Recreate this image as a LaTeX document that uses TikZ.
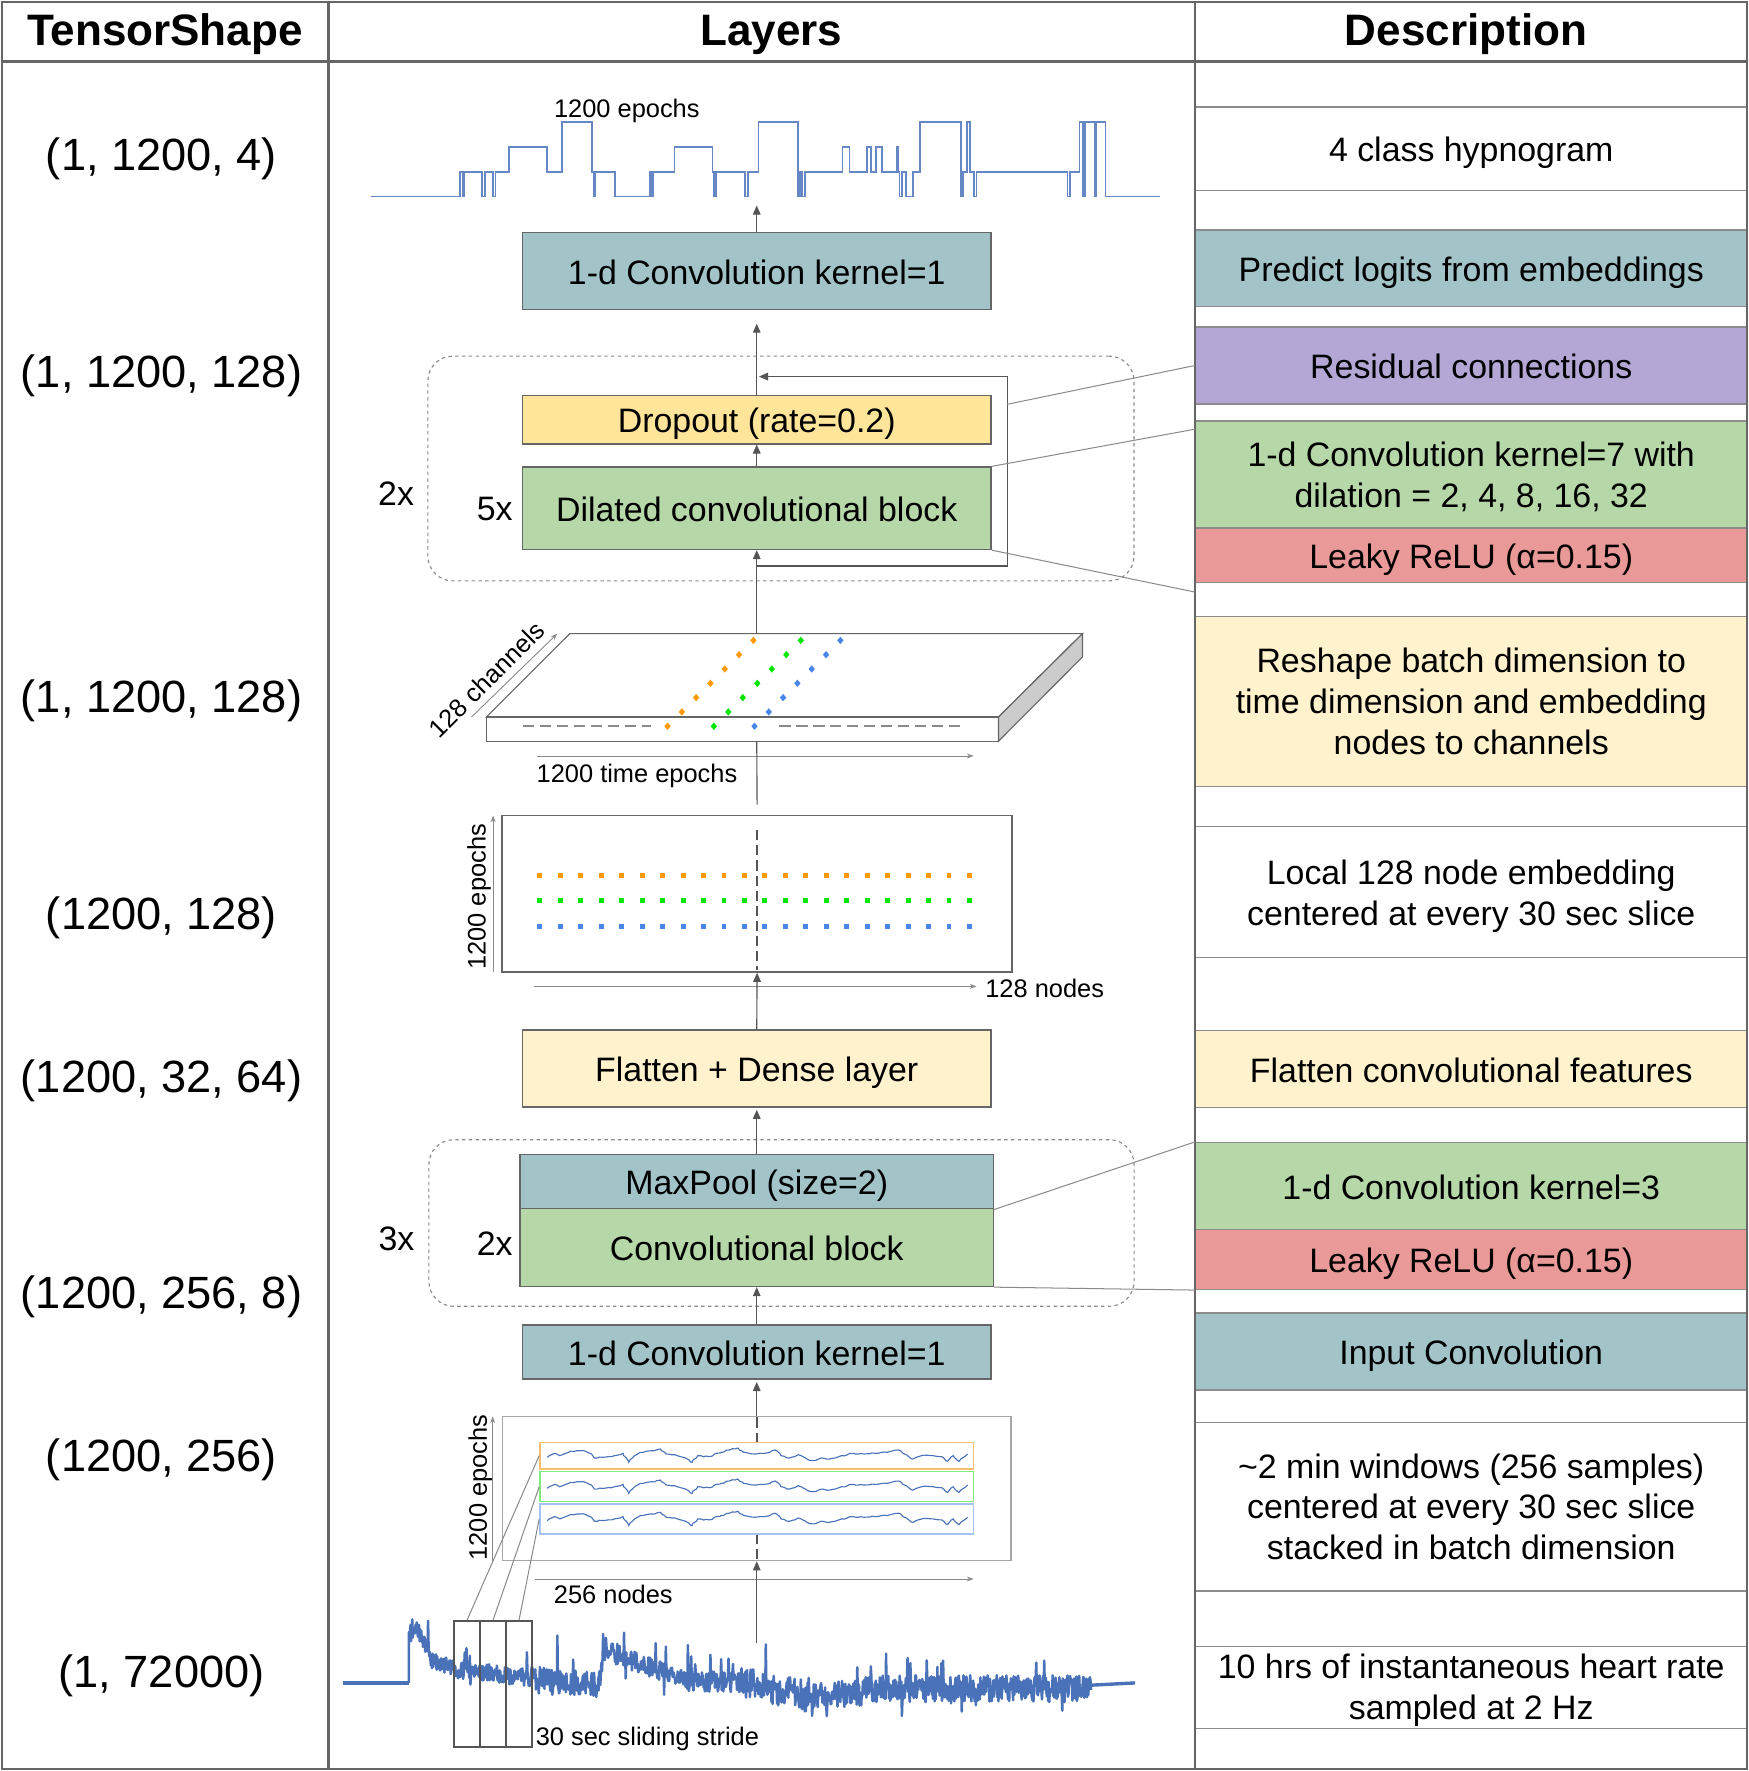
\documentclass[tikz,border=0pt]{standalone}
\usepackage{fontspec}
\setmainfont{Liberation Sans}
\usetikzlibrary{arrows.meta,calc,decorations.pathmorphing}
\definecolor{cTeal}{HTML}{A2C4C9}
\definecolor{cYel}{HTML}{FFE599}
\definecolor{cGrn}{HTML}{B6D7A8}
\definecolor{cLYel}{HTML}{FFF2CC}
\definecolor{cPurp}{HTML}{B4A7D6}
\definecolor{cRed}{HTML}{EA9999}
\definecolor{cFrame}{HTML}{666666}
\definecolor{cRow}{HTML}{8C8C8C}
\definecolor{cArr}{HTML}{555555}
\definecolor{cThin}{HTML}{8A8A8A}
\definecolor{cSig}{HTML}{4A72B8}
\definecolor{cOr}{HTML}{FF9900}
\definecolor{cGr}{HTML}{00E600}
\definecolor{cBl}{HTML}{4A86E8}
\definecolor{cOrL}{HTML}{F8BE6E}
\definecolor{cGrL}{HTML}{7EEB7E}
\definecolor{cBlL}{HTML}{A4C2F4}
\begin{document}
\begin{tikzpicture}[x=0.5pt,y=-0.5pt,
  lbox/.style={draw=cFrame, line width=0.6pt, inner sep=0pt, minimum width=207.5pt, font=\fontsize{15}{18}\selectfont, text height=12pt, text depth=0.3pt},
  dbox/.style={draw=cRow, line width=0.6pt, inner sep=0pt, anchor=north west, minimum width=244pt, align=center, font=\fontsize{15}{18}\selectfont},
  dboxs/.style={dbox, text height=12pt, text depth=0.3pt},
  tshape/.style={font=\fontsize{20}{24}\selectfont, inner sep=0pt},
  hdr/.style={font=\fontsize{19.5}{23}\selectfont\bfseries, inner sep=0pt},
  lbl/.style={font=\fontsize{11.25}{13}\selectfont, inner sep=0pt, text height=8.5pt, text depth=0.5pt},
  mult/.style={font=\fontsize{15}{18}\selectfont, inner sep=0pt},
  arr/.style={draw=cArr, line width=0.5pt, -{Triangle[length=4pt,width=3.4pt]}},
  thinarr/.style={draw=cThin, line width=0.4pt, -{Stealth[length=3pt,width=2.2pt]}},
  conn/.style={draw=cArr, line width=0.5pt},
  callout/.style={draw=cThin, line width=0.45pt},
  dashbox/.style={draw=cThin, dash pattern=on 1.5pt off 1.5pt, line width=0.5pt, rounded corners=11pt, inner sep=0pt},
  dashln/.style={draw=cArr, dash pattern=on 4.5pt off 2.2pt, line width=0.7pt},
  framel/.style={draw=cFrame, line width=1pt},
  sigline/.style={draw=cSig, line width=1.1pt, line join=round},
  hypline/.style={draw=cSig!85, line width=0.8pt},
  hrflat/.style={draw=cSig, line width=1.5pt},
  winbox/.style={line width=0.6pt, inner sep=0pt, minimum width=192pt},
  stride/.style={draw=cArr, line width=1pt, inner sep=0pt, minimum width=11.5pt, minimum height=55.5pt},
  trace/.style={draw=cSig, line width=0.5pt, decorate, decoration={random steps, segment length=1.2pt, amplitude=0.35pt}}
]
\useasboundingbox (0,0) rectangle (1548,1568);

% ---------------- description rows ----------------
\node[dboxs, minimum height=37pt] (dhyp) at (1058,94) {4 class hypnogram};
\node[dboxs, fill=cTeal, minimum height=34pt] (dlogit) at (1058,203) {Predict logits from embeddings};
\node[dboxs, fill=cPurp, minimum height=34pt] (dresid) at (1058,289) {Residual connections};
\node[dbox, fill=cGrn, minimum height=47.5pt] (dconv7) at (1058,372) {\rule{0pt}{13pt}1-d Convolution kernel=7 with\\dilation = 2, 4, 8, 16, 32};
\node[dboxs, fill=cRed, minimum height=24pt] (dleak1) at (1058,467) {Leaky ReLU (α=0.15)};
\node[dbox, fill=cLYel, minimum height=75.5pt] (dresh) at (1058,545) {Reshape batch dimension to\\time dimension and embedding\\nodes to channels};
\node[dbox, minimum height=58pt] (dlocal) at (1058,731) {\rule{0pt}{15pt}Local 128 node embedding\\centered at every 30 sec slice};
\node[dboxs, fill=cLYel, minimum height=34pt] (dflat) at (1058,912) {Flatten convolutional features};
\node[dboxs, fill=cGrn, minimum height=38.5pt] (dconv3) at (1058,1011) {1-d Convolution kernel=3};
\node[dboxs, fill=cRed, minimum height=26.5pt] (dleak2) at (1058,1088) {Leaky ReLU (α=0.15)};
\node[dboxs, fill=cTeal, minimum height=34pt] (dinput) at (1058,1162) {Input Convolution};
\node[dbox, minimum height=74.5pt] (dwin) at (1058,1259) {\textasciitilde2 min windows (256 samples)\\centered at every 30 sec slice\\stacked in batch dimension};
\node[dbox, minimum height=36.5pt] (dhr) at (1058,1457) {\rule{0pt}{13.5pt}10 hrs of instantaneous heart rate\\sampled at 2 Hz};

% ---------------- frame ----------------
\draw[framel] (1.5,1.5) rectangle (1546.5,1566);
\draw[framel] (290.8,1.5) -- (290.8,1566);
\draw[framel] (1058,1.5) -- (1058,1566);
\draw[draw=cFrame, line width=1.5pt] (1.5,54.5) -- (1546.5,54.5);
\node[hdr] (h1) at (146,30.5) {TensorShape};
\node[hdr] (h2) at (683,30.5) {Layers};
\node[hdr] (h3) at (1298,30.5) {Description};

% ---------------- tensor shapes ----------------
\node[tshape] (t1) at (143,140.5) {(1, 1200, 4)};
\node[tshape] (t2) at (143,332.5) {(1, 1200, 128)};
\node[tshape] (t3) at (143,620.5) {(1, 1200, 128)};
\node[tshape] (t4) at (143,812.5) {(1200, 128)};
\node[tshape] (t5) at (143,956.5) {(1200, 32, 64)};
\node[tshape] (t6) at (143,1148.5) {(1200, 256, 8)};
\node[tshape] (t7) at (143,1292.5) {(1200, 256)};
\node[tshape] (t8) at (143,1483.5) {(1, 72000)};

% ---------------- hypnogram ----------------
\draw[hypline] plot coordinates {(328.3,174)(407.5,174)(407.5,152)(409.4,152)(409.4,174)(410.9,174)(410.9,152)(426.7,152)(426.7,174)(429.1,174)(429.1,152)(436.3,152)(436.3,174)(438.7,174)(438.7,152)(450.7,152)(450.7,130)(484.3,130)(484.3,152)(497.3,152)(497.3,108)(524.2,108)(524.2,152)(525.5,152)(525.5,174)(527,174)(527,152)(544.4,152)(544.4,174)(575.6,174)(575.6,152)(577,152)(577,174)(578.5,174)(578.5,152)(597.2,152)(597.2,130)(630.8,130)(630.8,152)(632,152)(632,174)(634,174)(634,152)(659.6,152)(659.6,174)(662,174)(662,152)(671.6,152)(671.6,108)(706.2,108)(706.2,174)(708,174)(708,152)(710,152)(710,174)(712.4,174)(712.4,152)(746,152)(746,130)(752.2,130)(752.2,152)(767.6,152)(767.6,130)(770.9,130)(770.9,152)(775.8,152)(775.8,130)(780.6,130)(780.6,152)(794,152)(794,130)(795.4,130)(795.4,152)(796.4,152)(796.4,174)(798.8,174)(798.8,152)(802.2,152)(802.2,174)(808.4,174)(808.4,152)(814.7,152)(814.7,108)(850.7,108)(850.7,174)(852.6,174)(852.6,152)(856,152)(856,108)(858.8,108)(858.8,152)(862.7,152)(862.7,174)(864.6,174)(864.6,152)(945.2,152)(945.2,174)(947.2,174)(947.2,152)(955.8,152)(955.8,108)(958.7,108)(958.7,174)(960.6,174)(960.6,108)(969.3,108)(969.3,174)(970.5,174)(970.5,108)(978.8,108)(978.8,174)(1026.9,174)};
\node[lbl] (lhyp) at (555,96) {1200 epochs};
\coordinate (hypbot) at (670,182);

% ---------------- dashed groups ----------------
\node[dashbox, minimum width=312.6pt, minimum height=99.5pt] (grp1) at (691.4,414.8) {};
\node[dashbox, minimum width=312.2pt, minimum height=73.75pt] (grp2) at (691.9,1082.8) {};
\node[mult] (m2x) at (350.7,437) {2x};
\node[mult] (m5x) at (438,451) {5x};
\node[mult] (m3x) at (351,1097) {3x};
\node[mult] (m2xb) at (438,1101) {2x};

% ---------------- layer boxes ----------------
\node[lbox, fill=cTeal, minimum height=34pt] (conv1) at (670,240) {1-d Convolution kernel=1};
\node[lbox, fill=cYel, minimum height=21.5pt] (drop) at (670,371.5) {Dropout (rate=0.2)};
\node[lbox, fill=cGrn, minimum height=36.5pt] (dil) at (670,450) {Dilated convolutional block};
\node[lbox, fill=cLYel, minimum height=34pt] (flat) at (670,946) {Flatten + Dense layer};
\node[lbox, fill=cTeal, minimum width=209.5pt, minimum height=24pt] (maxp) at (670,1046.3) {MaxPool (size=2)};
\node[lbox, fill=cGrn, minimum width=209.5pt, minimum height=34.4pt] (convb) at (670,1104.6) {Convolutional block};
\node[lbox, fill=cTeal, minimum height=24pt] (inconv) at (670,1197) {1-d Convolution kernel=1};

% residual loop
\draw[arr] ($(dil.south)+(0,14)$) -| ($(dil.east)+(14,0)$) |- ($(drop.north)+(2,-16)$);
\coordinate (loopR) at (891.5,358);

% callouts
\draw[callout] (loopR) -- (dresid.west);
\draw[callout] (dil.north east) -- ($(dconv7.north west)+(0,8)$);
\draw[callout] (dil.south east) -- ($(dleak1.south west)+(0,8)$);
\draw[callout] (maxp.south east) -- (dconv3.north west);
\draw[callout] (convb.south east) -- (dleak2.south west);

% arrows between layers
\draw[arr] (conv1.north) -- (hypbot);
\draw[arr] (drop.north) -- ($(conv1.south)+(0,12)$);
\draw[arr] (dil.north) -- (drop.south);
\draw[arr] (maxp.north) -- ($(flat.south)+(0,2)$);
\draw[arr] (inconv.north) -- (convb.south);

% ---------------- 3D slab ----------------
\filldraw[draw=cFrame, fill=white, line width=0.5pt] (430.6,634.8) -- (504.5,561) -- (958.4,561) -- (884,634.8) -- cycle;
\filldraw[draw=cFrame, fill=white, line width=0.5pt] (430.6,634.8) rectangle (884,656.3);
\filldraw[draw=cFrame, fill=black!20, line width=0.5pt] (884,634.8) -- (958.4,561) -- (958.4,581.6) -- (884,656.3) -- cycle;
\draw[draw=cThin, dash pattern=on 5pt off 2.5pt, line width=0.7pt] (463,643) -- (576,643);
\draw[draw=cThin, dash pattern=on 5pt off 2.5pt, line width=0.7pt] (690,643) -- (850,643);
\foreach \i in {0,...,6}{
  \fill[cOr] ({591+\i*12.67},{643-\i*12.67}) +(0,-3.3) -- +(2.8,0) -- +(0,3.3) -- +(-2.8,0) -- cycle;
  \fill[cGr] ({632+\i*12.83},{643-\i*12.67}) +(0,-3.3) -- +(2.8,0) -- +(0,3.3) -- +(-2.8,0) -- cycle;
  \fill[cBl] ({668+\i*12.67},{643-\i*12.67}) +(0,-3.3) -- +(2.8,0) -- +(0,3.3) -- +(-2.8,0) -- cycle;
}
\coordinate (slabtop) at (670,561);
\coordinate (slabbot) at (670,656.3);
\draw[thinarr] (417.5,634.8) -- (493.4,561);
\node[lbl, rotate=45] (lchan) at (431,602) {128 channels};
\draw[thinarr] (475.5,669.3) -- (862,669.3);
\node[lbl] (ltime) at (564,685) {1200 time epochs};
\draw[arr] (slabtop) -- (dil.south);

% ---------------- embedding box ----------------
\node[draw=cFrame, line width=0.6pt, fill=white, inner sep=0pt, minimum width=225.75pt, minimum height=69.35pt] (emb) at (670.3,791.3) {};
\draw[dashln] (670,735) -- (670,859);
\foreach \i in {0,...,21}{
  \fill[cOr] ({478+\i*18.11-2.2},773) rectangle +(4.4,4.4);
  \fill[cGr] ({478+\i*18.11-2.2},795) rectangle +(4.4,4.4);
  \fill[cBl] ({478+\i*18.11-2.2},818) rectangle +(4.4,4.4);
}
\draw[thinarr] (436.6,860.6) -- (436.6,722);
\node[lbl, rotate=90] (lep1) at (422,794) {1200 epochs};
\draw[thinarr] (473,873.3) -- (864.6,873.3);
\node[lbl, anchor=west] (lnodes) at (872,875) {128 nodes};
\draw[conn] ($(emb.north)+(0,-9)$) -- (slabbot);
\draw[arr] (flat.north) -- (emb.south);

% ---------------- windows box ----------------
\node[draw=black!35, line width=0.6pt, inner sep=0pt, minimum width=225.25pt, minimum height=63.85pt] (win) at (670,1317.9) {};
\draw[dashln] (670,1255) -- (670,1277);
\draw[dashln] (670,1358) -- (670,1381);
\node[winbox, draw=cOrL, minimum height=11.75pt] (wo) at (670,1288.8) {};
\node[winbox, draw=cGrL, minimum height=13.25pt] (wg) at (670,1316.3) {};
\node[winbox, draw=cBlL, minimum height=13.25pt] (wb) at (670,1344.8) {};
\foreach \yc in {1288.8,1316.3,1344.8}{
  \pgfmathsetseed{77}
  \begin{scope}[shift={(292.3,\yc)}, xscale=0.5085, yscale=0.295]
    \draw[trace] plot coordinates {(378,5)(390,-7)(400,0)(415,-10)(430,-15)(445,-13)(455,-5)(460,7)(475,5)(490,3)(505,-3)(510,-7)(520,20)(530,0)(540,-10)(560,-15)(575,-20)(585,-5)(600,-3)(615,5)(630,20)(640,0)(660,3)(680,-10)(695,-17)(710,-23)(720,-10)(740,-5)(760,-8)(775,-17)(785,0)(800,7)(815,-3)(830,10)(840,15)(855,7)(870,10)(890,0)(910,-7)(930,-5)(950,-7)(970,-10)(990,-17)(1000,-5)(1015,10)(1030,0)(1050,0)(1065,3)(1075,17)(1085,0)(1095,17)(1110,-5)};
  \end{scope}
}
\draw[thinarr] (436.2,1381.7) -- (436.2,1254);
\node[lbl, rotate=90] (lep2) at (423,1317) {1200 epochs};
\draw[thinarr] (473.8,1398) -- (862,1398);
\node[lbl] (l256) at (543,1412) {256 nodes};
\draw[arr] (inconv.south |- win.north) -- ($(inconv.south)+(0,2)$);

% ---------------- heart rate signal ----------------
\draw[hrflat] (304,1490) -- (362,1490);
\draw[hrflat] (966,1492) -- (1005,1490);
\pgfmathsetseed{12345}
\draw[sigline] (362,1490) -- (362,1451)
  \foreach \xa/\xb/\ya/\yb/\am/\pp in {362/368/1451/1442/7/0.1, 368/373/1442/1450/9/0.15, 373/382/1450/1470/8/0.05, 382/405/1470/1478/7/0.04, 405/470/1478/1486/8/0.04, 470/530/1486/1492/11/0.05, 530/536/1492/1458/9/0.1, 536/548/1458/1465/9/0.05, 548/605/1465/1488/9/0.04, 605/660/1488/1490/9/0.05, 660/720/1490/1503/14/0.06, 720/780/1503/1495/12/0.06, 780/830/1495/1495/12/0.06, 830/966/1495/1495/12/0.06}{
    \foreach \xx in {\xa,\xa.5,...,\xb}{ -- (\xx,{\ya+(\yb-\ya)*(\xx-\xa)/(\xb-\xa)+\am*rand-(rnd<\pp)*rnd*32+(rnd<\pp*0.6)*rnd*16}) }
  };
\coordinate (hrtop) at (670,1455);
\draw[arr] (hrtop) -- (win.south);

% stride windows
\node[stride] (s1) at (413.5,1491) {};
\node[stride] (s2) at (436.5,1491) {};
\node[stride] (s3) at (459.5,1491) {};
\draw[callout] (wo.west) -- (s1.north);
\draw[callout] (wg.west) -- (s2.north);
\draw[callout] (wb.west) -- (s3.north);
\node[lbl, anchor=west] (lstride) at (474,1537) {30 sec sliding stride};
\end{tikzpicture}
\end{document}
